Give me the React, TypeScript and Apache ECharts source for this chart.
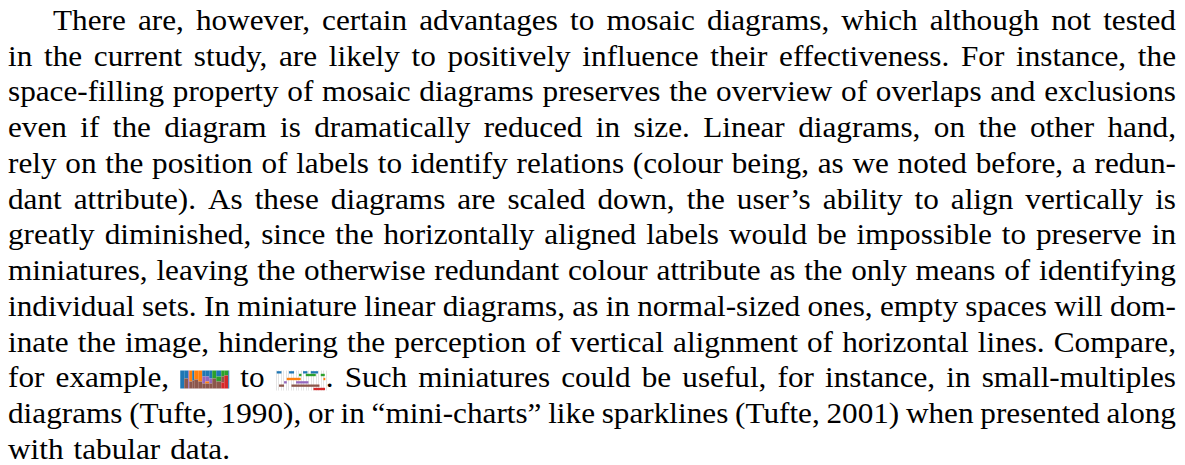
import React, { useEffect, useRef } from "react";
import * as echarts from "echarts";

// ---- text content (one entry per typeset line) ----
const paragraphLines: string[] = [
  "There are, however, certain advantages to mosaic diagrams, which although not tested",
  "in the current study, are likely to positively influence their effectiveness. For instance, the",
  "space-filling property of mosaic diagrams preserves the overview of overlaps and exclusions",
  "even if the diagram is dramatically reduced in size. Linear diagrams, on the other hand,",
  "rely on the position of labels to identify relations (colour being, as we noted before, a redun-",
  "dant attribute). As these diagrams are scaled down, the user\u2019s ability to align vertically is",
  "greatly diminished, since the horizontally aligned labels would be impossible to preserve in",
  "miniatures, leaving the otherwise redundant colour attribute as the only means of identifying",
  "individual sets. In miniature linear diagrams, as in normal-sized ones, empty spaces will dom-",
  "inate the image, hindering the perception of vertical alignment of horizontal lines. Compare,",
  "for example, {mosaic} to {linear}. Such miniatures could be useful, for instance, in small-multiples",
  "diagrams (Tufte, 1990), or in \u201cmini-charts\u201d like sparklines (Tufte, 2001) when presented along",
  "with tabular data.",
];

// ---- colours of the sets ----
const setColors: string[] = ["#1f77b4", "#ff7f0e", "#2ca02c", "#d62728", "#9467bd", "#8c564b"];

// ---- miniature mosaic diagram: [x0, x1, y0, y1, colourIndex] ----
const mosaicCells: number[][] = [
  [0, 4, 0, 18, 0],
  [4, 8, 0, 8, 0], [4, 8, 8, 18, 5],
  [8, 9, 0, 18, 4],
  [9, 12, 0, 11, 1], [9, 12, 11, 18, 5],
  [12, 14, 0, 10, 0], [12, 14, 10, 18, 5],
  [14, 18, 0, 9, 1], [14, 18, 9, 18, 5],
  [18, 22, 0, 11, 1], [18, 22, 11, 18, 5],
  [22, 25, 0, 6, 0], [22, 25, 6, 13, 4], [22, 25, 13, 18, 5],
  [25, 29, 0, 6, 0], [25, 29, 6, 11, 4], [25, 29, 11, 13, 1], [25, 29, 13, 18, 5],
  [29, 32, 0, 8, 0], [29, 32, 8, 13, 4], [29, 32, 13, 18, 5],
  [32, 36, 0, 8, 2], [32, 36, 8, 18, 5],
  [36, 41, 0, 6, 0], [36, 41, 6, 11, 2], [36, 41, 11, 18, 5],
  [41, 44, 0, 6, 2], [41, 44, 6, 12, 5], [41, 44, 12, 18, 3],
  [44, 48, 0, 5, 2], [44, 48, 5, 18, 3],
  [48, 49, 0, 18, 0],
];

// ---- miniature linear diagram: per set [y0, y1, colourIndex], and its segments ----
const linearRows: number[][] = [
  [0.7, 3.0, 0],
  [3.3, 5.7, 2],
  [7.3, 9.7, 1],
  [10.7, 13.0, 4],
  [14.0, 16.3, 5],
  [17.3, 19.7, 3],
];
const linearSegments: number[][][] = [
  [[1, 5.7], [13.3, 18.3], [27.3, 31.7], [35, 42.3]],
  [[23.3, 25.7], [30, 40], [45, 49]],
  [[11, 25], [47.7, 49.5]],
  [[8.3, 11], [20.3, 32.7]],
  [[3.3, 8.3], [15.7, 43.7]],
  [[37.7, 49.3]],
];

const W = 1185;
const H = 465;
const FONT_SIZE = 29;
const FONT_FAMILY = "Liberation Serif";
const TEXT_COLOR = "#000";
const LEFT_X = 8;
const INDENT_X = 53;
const RIGHT_X = 1176;
const BASE0 = 30;
const LEADING = 35.75;
const TARGET_GAP = 10;
const MID_OFFSET = 0.34 * FONT_SIZE;
const MOSAIC_W = 49, MOSAIC_H = 18;
const LINEAR_W = 50, LINEAR_H = 20;

export default function App() {
  const ref = useRef<HTMLDivElement>(null);
  useEffect(() => {
    const el = ref.current!;
    const chart = echarts.init(el, null, { renderer: "svg" });
    const canvas = document.createElement("canvas");
    const ctx = canvas.getContext("2d")!;
    ctx.font = `${FONT_SIZE}px ${FONT_FAMILY}`;
    const mw = (t: string) => ctx.measureText(t).width;

    const imgW: Record<string, number> = { mosaic: MOSAIC_W, linear: LINEAR_W };
    const lines = paragraphLines.map((line) =>
      line.split(" ").map((word) => {
        let img: string | null = null;
        let text = word;
        const m = word.match(/^\{(mosaic|linear)\}(.*)$/);
        if (m) {
          img = m[1];
          text = m[2];
        }
        return { text, img, textW: text ? mw(text) : 0, fixW: img ? imgW[img] : 0 };
      })
    );

    let num = 0, den = 0;
    lines.forEach((toks, i) => {
      if (i === lines.length - 1) return;
      const start = i === 0 ? INDENT_X : LEFT_X;
      const F = toks.reduce((a, t) => a + t.fixW, 0);
      const T = toks.reduce((a, t) => a + t.textW, 0);
      num += RIGHT_X - start - F - (toks.length - 1) * TARGET_GAP;
      den += T;
    });
    const s = num / den;

    const graphics: any[] = [];
    const imgX: Record<string, number> = {};
    const imgBase: Record<string, number> = {};
    lines.forEach((toks, i) => {
      const last = i === lines.length - 1;
      const start = i === 0 ? INDENT_X : LEFT_X;
      const F = toks.reduce((a, t) => a + t.fixW, 0);
      const T = toks.reduce((a, t) => a + t.textW, 0);
      const gap = last ? TARGET_GAP * 1.0 : (RIGHT_X - start - F - s * T) / (toks.length - 1);
      const baseline = BASE0 + i * LEADING;
      let x = start;
      toks.forEach((t) => {
        if (t.img) {
          imgX[t.img] = x;
          imgBase[t.img] = baseline;
          x += t.fixW;
        }
        if (t.text) {
          graphics.push({
            type: "text",
            x,
            y: baseline - MID_OFFSET,
            scaleX: s,
            silent: true,
            style: {
              text: t.text,
              fontSize: FONT_SIZE,
              fontFamily: FONT_FAMILY,
              fill: TEXT_COLOR,
              align: "left",
              verticalAlign: "middle",
            },
          });
          x += s * t.textW;
        }
        x += gap;
      });
    });

    const linearData: number[][] = [];
    linearRows.forEach((row, r) => {
      linearSegments[r].forEach((seg) => linearData.push([seg[0], seg[1], row[0], row[1], row[2]]));
    });

    const renderRect = (params: any, api: any) => {
      const p0 = api.coord([api.value(0), api.value(2)]);
      const p1 = api.coord([api.value(1), api.value(3)]);
      return {
        type: "rect",
        shape: { x: p0[0], y: p0[1], width: p1[0] - p0[0], height: p1[1] - p0[1] },
        style: { fill: setColors[api.value(4)] },
      };
    };

    const hiddenAxis = {
      axisLine: { show: false },
      axisTick: { show: false },
      axisLabel: { show: false },
      splitLine: { show: false },
    };

    chart.setOption({
      animation: false,
      backgroundColor: "#fff",
      grid: [
        { left: imgX.mosaic, top: imgBase.mosaic - 17, width: MOSAIC_W, height: MOSAIC_H },
        { left: imgX.linear, top: imgBase.linear - 17, width: LINEAR_W, height: LINEAR_H },
      ],
      xAxis: [
        { type: "value", gridIndex: 0, min: 0, max: MOSAIC_W, ...hiddenAxis },
        {
          type: "value",
          gridIndex: 1,
          min: 0,
          max: LINEAR_W,
          interval: 2.5,
          ...hiddenAxis,
          splitLine: { show: true, lineStyle: { color: "#e4e4e4", width: 1 } },
        },
      ],
      yAxis: [
        { type: "value", gridIndex: 0, min: 0, max: MOSAIC_H, inverse: true, ...hiddenAxis },
        { type: "value", gridIndex: 1, min: 0, max: LINEAR_H, inverse: true, ...hiddenAxis },
      ],
      series: [
        { type: "custom", xAxisIndex: 0, yAxisIndex: 0, renderItem: renderRect, data: mosaicCells, silent: true },
        { type: "custom", xAxisIndex: 1, yAxisIndex: 1, renderItem: renderRect, data: linearData, silent: true },
      ],
      graphic: graphics,
    });
    return () => chart.dispose();
  }, []);
  return <div ref={ref} style={{ position: "fixed", left: 0, top: 0, width: W, height: H }} />;
}
